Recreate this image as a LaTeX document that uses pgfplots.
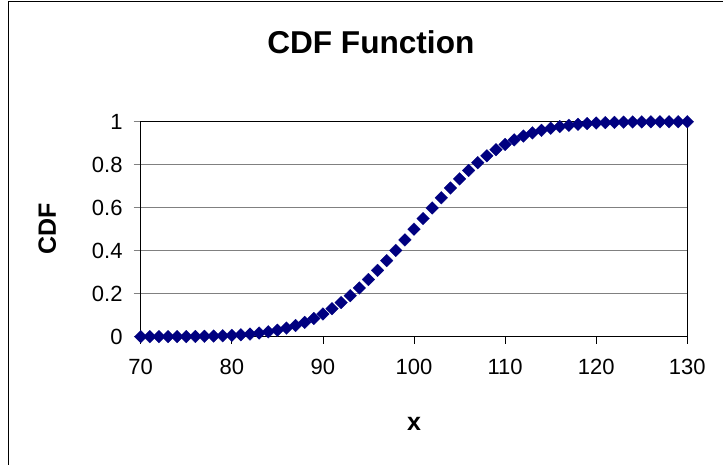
\documentclass[border=0pt]{standalone}
\usepackage{fontspec}
\setmainfont{Liberation Sans}
\usepackage{pgfplots}
\pgfplotsset{compat=1.18}
\definecolor{navy}{RGB}{0,0,128}
\definecolor{gridgray}{RGB}{128,128,128}
\begin{document}
\begin{tikzpicture}[x=1pt,y=1pt]
\useasboundingbox (0,0) rectangle (723,-465);
\begin{scope}
\clip (0,0) rectangle (723,-465);
\draw[line width=1pt] (8.5,-1.5) rectangle (760,-500);
\end{scope}
\begin{axis}[
  at={(140.7pt,-336.7pt)}, anchor=south west,
  scale only axis, width=546.6pt, height=215pt,
  xmin=70, xmax=130, ymin=0, ymax=1,
  xtick={70,80,90,100,110,120,130},
  ytick={0,0.2,0.4,0.6,0.8,1},
  yticklabels={0,0.2,0.4,0.6,0.8,1},
  ymajorgrids, grid style={gridgray, line width=0.8pt},
  tick align=outside, tick pos=left,
  major tick length=7pt,
  axis line style={black, line width=0.8pt},
  xtick style={black, line width=0.8pt},
  ytick style={gridgray, line width=0.8pt},
  /pgf/number format/assume math mode=true,
  ticklabel style={font=\fontsize{22}{24}\selectfont},
  xticklabel style={anchor=center, yshift=-23pt},
  yticklabel style={anchor=east, inner sep=0pt, xshift=-11pt},
  title={CDF Function},
  title style={at={(axis description cs:0.421,1.34)}, anchor=center, font=\fontsize{31.6}{36}\selectfont\bfseries},
  xlabel={x},
  xlabel style={at={(axis description cs:0.5,-0.405)}, anchor=center, font=\fontsize{25}{28}\selectfont\bfseries},
  ylabel={CDF},
  ylabel style={at={(axis description cs:-0.171,0.5)}, anchor=center, rotate=0, font=\fontsize{25}{28}\selectfont\bfseries},
  clip=false,
]
\addplot[only marks, mark=square*, mark size=4.5pt, mark options={rotate=45, fill=navy, draw=navy, line width=0.2pt}] table {
x y
70 0.0000884
71 0.000144
72 0.000233
73 0.000369
74 0.000577
75 0.000889
76 0.00135
77 0.00202
78 0.00298
79 0.00433
80 0.00621
81 0.00877
82 0.01222
83 0.01679
84 0.02275
85 0.03040
86 0.04006
87 0.05208
88 0.06681
89 0.08456
90 0.10565
91 0.13029
92 0.15866
93 0.19079
94 0.22663
95 0.26599
96 0.30854
97 0.35383
98 0.40129
99 0.45026
100 0.5
101 0.54974
102 0.59871
103 0.64617
104 0.69146
105 0.73401
106 0.77337
107 0.80921
108 0.84134
109 0.86971
110 0.89435
111 0.91544
112 0.93319
113 0.94792
114 0.95994
115 0.96960
116 0.97725
117 0.98321
118 0.98778
119 0.99123
120 0.99379
121 0.99567
122 0.99702
123 0.99798
124 0.99865
125 0.99911
126 0.99942
127 0.99963
128 0.99977
129 0.99986
130 0.99991
};
\end{axis}
\end{tikzpicture}
\end{document}
